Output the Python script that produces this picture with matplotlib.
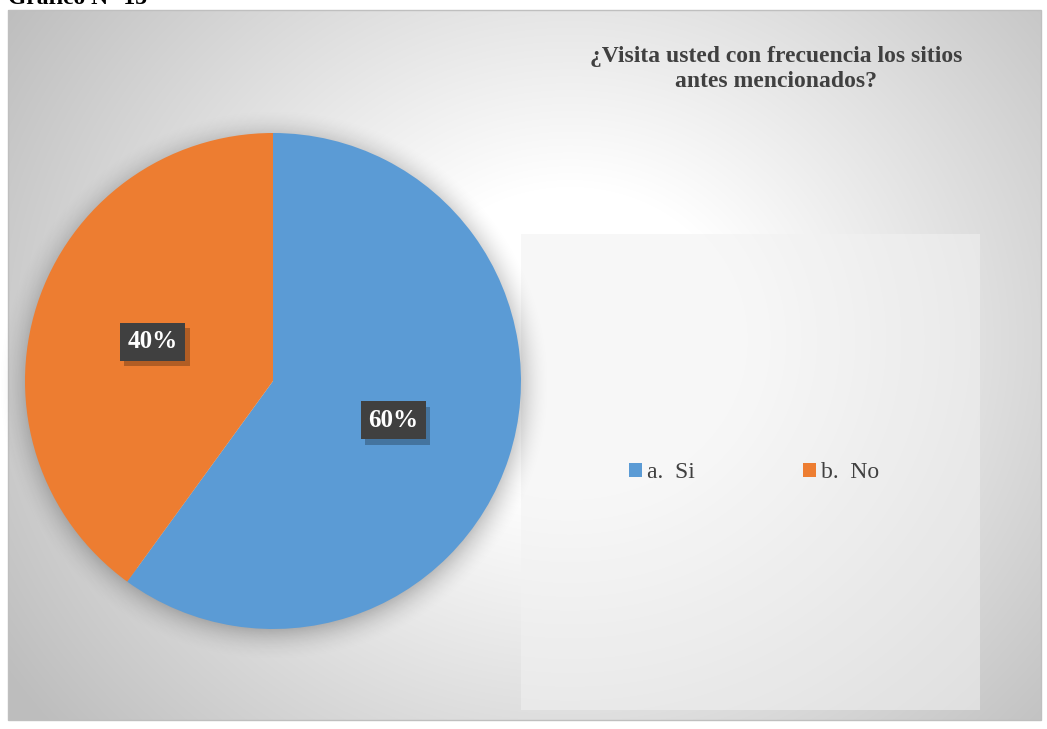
import numpy as np
import matplotlib
matplotlib.use("Agg")
import matplotlib.pyplot as plt
from matplotlib.patches import Rectangle
import matplotlib.patheffects as pe

categories = ["a.  Si", "b.  No"]
values = [60, 40]
colors = ["#5B9BD5", "#ED7D31"]
title = "¿Visita usted con frecuencia los sitios\nantes mencionados?"
header = "Gráfico N° 13"

W, H = 1047, 729
fig = plt.figure(figsize=(W / 100, H / 100), dpi=100)
fig.patch.set_facecolor("white")

# background axes in pixel coordinates
bg = fig.add_axes([0, 0, 1, 1])
bg.set_xlim(0, W)
bg.set_ylim(H, 0)
bg.axis("off")

x0, x1, y0, y1 = 8, 1041, 10, 720
yy, xx = np.mgrid[y0:y1, x0:x1] + 0.5
cx, cy = 570, 340
d = np.sqrt((xx - cx) ** 2 + ((yy - cy) / 0.9) ** 2)
t = np.clip((d - 170) / 500.0, 0, 1)
light, dark = 1.0, 0.745
g = light + (dark - light) * t
img = np.dstack([g, g, g])
bg.imshow(img, extent=(x0, x1, y1, y0), aspect="auto", zorder=0, interpolation="bilinear")
bg.add_patch(Rectangle((x0, y0), x1 - x0, y1 - y0, fill=False, edgecolor="#bfbfbf", lw=1, zorder=1))

# plot area (legend region)
bg.add_patch(Rectangle((521, 234), 459, 476, facecolor="#f2f2f2", alpha=0.55, edgecolor="none", zorder=1))

# header (cut at top)
bg.text(8, 4, header, fontsize=17, fontweight="bold", family="Liberation Serif",
        color="black", va="baseline", ha="left", zorder=3)

# title
bg.text(776, 69, title, fontsize=17, fontweight="bold", family="Liberation Serif",
        color="#404040", ha="center", va="center", linespacing=1.2, zorder=3)

# pie shadow (soft glow)
pcx, pcy, R = 273, 381, 248
sx0, sx1, sy0, sy1 = pcx - R - 50, pcx + R + 50, pcy - R - 50, pcy + R + 50
syy, sxx = np.mgrid[sy0:sy1, sx0:sx1] + 0.5
r = np.sqrt((sxx - pcx - 1) ** 2 + (syy - pcy - 4) ** 2)
alpha = 0.22 * np.clip(1 - (r - R + 4) / 34.0, 0, 1) ** 2
alpha[r < R - 20] = 0
shadow = np.zeros(alpha.shape + (4,))
shadow[..., 3] = alpha
bg.imshow(shadow, extent=(sx0, sx1, sy1, sy0), aspect="auto", zorder=2, interpolation="bilinear")
bg.set_xlim(0, W)
bg.set_ylim(H, 0)

# pie axes
pax = fig.add_axes([(pcx - R) / W, (H - pcy - R) / H, 2 * R / W, 2 * R / H])
wedges, texts, autotexts = pax.pie(
    values, colors=colors, startangle=90, counterclock=False, radius=1,
    autopct="%1.0f%%", pctdistance=0.51,
    wedgeprops=dict(edgecolor="none"),
    textprops=dict(color="white", fontsize=18, fontweight="bold", family="Liberation Serif"))
pax.set_xlim(-1, 1)
pax.set_ylim(-1, 1)
pax.axis("off")
for at in autotexts:
    at.set_bbox(dict(boxstyle="square,pad=0.3", facecolor="#404040", edgecolor="none"))
    at.get_bbox_patch().set_path_effects([
        pe.SimplePatchShadow(offset=(3, -4), shadow_rgbFace="black", alpha=0.25),
        pe.Normal()])

# legend
handles = [Rectangle((0, 0), 1, 1, facecolor=c) for c in colors]
leg = bg.legend(handles, categories, loc="center", bbox_to_anchor=(754 / W, 1 - 473 / H),
                bbox_transform=fig.transFigure, ncol=2, frameon=False,
                prop=dict(family="Liberation Serif", size=17), handlelength=0.55, handleheight=0.55,
                handletextpad=0.2, columnspacing=4.6, labelcolor="#404040")

fig.savefig("out.png", dpi=100, facecolor="white")
